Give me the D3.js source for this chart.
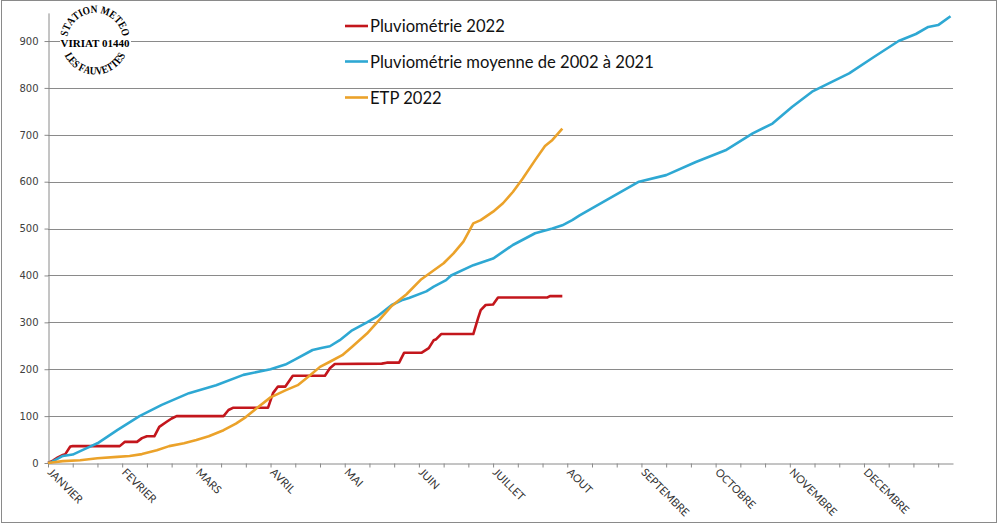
<!DOCTYPE html>
<html>
<head>
<meta charset="utf-8">
<script src="https://cdn.jsdelivr.net/npm/d3@7"></script>
<style>
  body { margin: 0; background: #fff; }
  svg { display: block; }
</style>
</head>
<body>
<svg id="chart" width="1000" height="524"></svg>
<script>
// days since 1 January, values in mm
const pluvioDays = [0, 2, 4, 6, 7, 9, 10, 29, 31, 36, 38, 40, 43, 45, 48, 50, 52, 71, 73, 75, 89, 91, 93, 96, 99, 112, 114, 116, 135, 137, 142, 144, 151, 154, 156, 157, 159, 172, 174, 175, 177, 180, 182, 202, 203, 208];
const pluvioVals = [0, 5, 12, 17, 19, 35, 36, 36, 45, 45, 53, 57, 57, 77, 88, 95, 100, 100, 113, 118, 118, 149, 163, 163, 186, 186, 202, 211, 212, 214, 214, 235, 235, 245, 262, 264, 275, 275, 310, 326, 337, 338, 353, 353, 356, 356];

const moyDays = [0, 1, 6, 10, 15, 20, 28, 37, 46, 57, 68, 79, 90, 96, 100, 107, 111, 114, 118, 123, 129, 133, 139, 143, 146, 153, 156, 161, 163, 172, 180, 188, 197, 204, 208, 212, 215, 226, 239, 250, 262, 274, 285, 293, 301, 309, 317, 324, 334, 344, 351, 356, 360, 365];
const moyVals = [0, 1, 15, 18, 30, 42, 70, 100, 124, 149, 166, 188, 200, 210, 221, 241, 246, 249, 262, 283, 300, 312, 337, 347, 352, 366, 376, 390, 400, 422, 436, 465, 490, 500, 507, 518, 528, 561, 600, 614, 642, 667, 703, 724, 760, 792, 813, 831, 866, 900, 915, 930, 934, 953];

const etpDays = [0, 6, 13, 20, 28, 33, 38, 44, 49, 55, 60, 65, 71, 76, 80, 84, 90, 96, 101, 106, 110, 114, 119, 123, 129, 134, 139, 145, 151, 160, 164, 168, 172, 175, 180, 184, 188, 192, 197, 201, 204, 208];
const etpVals = [0, 4, 6, 10, 13, 15, 19, 27, 36, 42, 49, 57, 70, 84, 98, 115, 140, 155, 166, 187, 205, 216, 230, 248, 276, 305, 335, 360, 392, 426, 447, 472, 511, 518, 536, 554, 578, 607, 646, 676, 689, 713];

const monthLabels = ["JANVIER", "FEVRIER", "MARS", "AVRIL", "MAI", "JUIN", "JUILLET", "AOUT", "SEPTEMBRE", "OCTOBRE", "NOVEMBRE", "DECEMBRE"];
const yTicks = [0, 100, 200, 300, 400, 500, 600, 700, 800, 900];

const series = [
  { name: "Pluviométrie 2022", color: "#c3161c", days: pluvioDays, vals: pluvioVals },
  { name: "Pluviométrie moyenne de 2002 à 2021", color: "#2ea8d3", days: moyDays, vals: moyVals },
  { name: "ETP 2022", color: "#eba22a", days: etpDays, vals: etpVals }
];

const svg = d3.select("#chart");
const gray = "#8a8a8a";

// outer frame
svg.append("rect")
  .attr("x", 1.5).attr("y", 0.5)
  .attr("width", 995).attr("height", 522)
  .attr("fill", "none").attr("stroke", gray);

const x = d3.scaleLinear().domain([0, 366]).range([48, 953]);
const y = d3.scaleLinear().domain([0, 960]).range([463, 12.9]);

// gridlines
svg.append("g")
  .selectAll("line")
  .data(yTicks.slice(1))
  .enter().append("line")
  .attr("x1", 48).attr("x2", 953)
  .attr("y1", d => Math.round(y(d)) + 0.5)
  .attr("y2", d => Math.round(y(d)) + 0.5)
  .attr("stroke", gray);

// y axis
let yAxis = svg.append("g")
  .attr("transform", "translate(48.5,0)")
  .call(d3.axisLeft(y).tickValues(yTicks).tickSize(4).tickPadding(6).tickSizeOuter(0));
yAxis.select(".domain").attr("stroke", gray);
yAxis.selectAll(".tick line").attr("stroke", gray);
yAxis.selectAll(".tick text")
  .attr("font-family", "DejaVu Sans, sans-serif")
  .attr("font-size", 10)
  .attr("fill", "#404040");

// x axis
let xAxis = svg.append("g")
  .attr("transform", "translate(0,463.5)")
  .call(d3.axisBottom(x).tickValues(d3.range(0, 366, 10)).tickSize(4).tickSizeOuter(0).tickFormat(""));
xAxis.select(".domain").attr("stroke", gray);
xAxis.selectAll(".tick line").attr("stroke", gray);

svg.append("g")
  .selectAll("text")
  .data(monthLabels)
  .enter().append("text")
  .attr("transform", (d, i) => "translate(" + (x(i * 30) - 1) + ",473) rotate(45)")
  .attr("font-family", "Lato, sans-serif")
  .attr("font-size", 11)
  .attr("fill", "#333")
  .text(d => d);

// lines
let line = d3.line()
  .x(d => x(d[0]))
  .y(d => y(d[1]));

svg.append("g")
  .selectAll("path")
  .data(series)
  .enter().append("path")
  .attr("d", s => line(s.days.map((d, i) => [d, s.vals[i]])))
  .attr("fill", "none")
  .attr("stroke", s => s.color)
  .attr("stroke-width", 2.6)
  .attr("stroke-linejoin", "round");

// legend
let legend = svg.append("g")
  .selectAll("g")
  .data(series)
  .enter().append("g")
  .attr("transform", (d, i) => "translate(345," + [26, 61.5, 97.5][i] + ")");
legend.append("line")
  .attr("x1", 0).attr("x2", 23)
  .attr("stroke", d => d.color)
  .attr("stroke-width", 2.6);
legend.append("text")
  .attr("x", 25).attr("y", 6)
  .attr("font-family", "Lato, sans-serif")
  .attr("font-size", 16.6)
  .attr("fill", "#111")
  .text(d => d.name);

// station stamp, letters placed one by one around a circle
let stamp = svg.append("g").attr("transform", "translate(95,41)");
stamp.append("rect")
  .attr("x", -35).attr("y", -5).attr("width", 71).attr("height", 13)
  .attr("fill", "#fff");

const squeeze = 0.85;

function charWidths(str, size) {
  return str.split("").map(c => {
    let t = stamp.append("text")
      .attr("font-family", "Liberation Serif, serif")
      .attr("font-weight", "bold")
      .attr("font-size", size)
      .text(c === " " ? "\u00a0" : c);
    let w = t.node().getComputedTextLength() * squeeze;
    t.remove();
    return w;
  });
}

function ringText(str, r, size, top) {
  let ws = charWidths(str, size);
  let total = d3.sum(ws);
  let cum = 0;
  str.split("").forEach((c, i) => {
    let mid = cum + ws[i] / 2;
    cum += ws[i];
    let a = top ? -90 - (total / 2 - mid) / r * 180 / Math.PI
                : 90 + (total / 2 - mid) / r * 180 / Math.PI;
    let rad = a * Math.PI / 180;
    let rot = top ? a + 90 : a - 90;
    stamp.append("text")
      .attr("transform", "translate(" + (r * Math.cos(rad)) + "," + (r * Math.sin(rad)) + ") rotate(" + rot + ") scale(" + squeeze + ",1)")
      .attr("text-anchor", "middle")
      .attr("font-family", "Liberation Serif, serif")
      .attr("font-weight", "bold")
      .attr("font-size", size)
      .attr("fill", "#000")
      .text(c);
  });
}

ringText("STATION METEO", 28, 11, true);
ringText("LES FAUVETTES", 33.5, 11, false);

stamp.append("text")
  .attr("y", 5.5)
  .attr("text-anchor", "middle")
  .attr("font-family", "Liberation Serif, serif")
  .attr("font-weight", "bold")
  .attr("font-size", 11)
  .text("VIRIAT 01440");
</script>
</body>
</html>
